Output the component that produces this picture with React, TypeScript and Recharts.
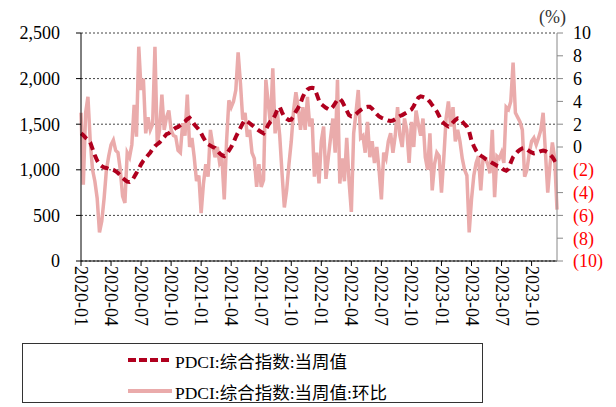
import React from 'react';
import { LineChart, Line, XAxis, YAxis, CartesianGrid } from 'recharts';

// PDCI composite index, weekly value (left axis)
const pdciIndex: number[] = [
  1400, 1380, 1350, 1330, 1300, 1230, 1160, 1100, 1060, 1040,
  1025, 1020, 1010, 1005, 1000, 985, 965, 940, 910, 890,
  870, 866, 880, 920, 965, 1010, 1060, 1100, 1130, 1160,
  1190, 1230, 1260, 1280, 1300, 1330, 1360, 1390, 1400, 1420,
  1440, 1460, 1470, 1490, 1510, 1530, 1555, 1570, 1540, 1500,
  1470, 1440, 1400, 1350, 1310, 1280, 1265, 1250, 1240, 1210,
  1180, 1160, 1150, 1170, 1210, 1250, 1300, 1360, 1410, 1460,
  1510, 1545, 1530, 1510, 1490, 1470, 1450, 1430, 1415, 1400,
  1440, 1490, 1530, 1550, 1600, 1660, 1690, 1630, 1580, 1560,
  1545, 1550, 1590, 1640, 1680, 1730, 1800, 1850, 1880, 1895,
  1900, 1895, 1830, 1760, 1720, 1700, 1680, 1665, 1660, 1690,
  1730, 1770, 1780, 1750, 1700, 1650, 1600, 1585, 1590, 1610,
  1635, 1655, 1670, 1685, 1690, 1690, 1670, 1640, 1610, 1585,
  1570, 1560, 1550, 1540, 1535, 1540, 1555, 1575, 1590, 1600,
  1615, 1630, 1645, 1660, 1700, 1750, 1790, 1805, 1800, 1790,
  1775, 1745, 1710, 1675, 1640, 1590, 1535, 1510, 1490, 1475,
  1490, 1520, 1545, 1565, 1560, 1530, 1500, 1475, 1420, 1320,
  1260, 1210, 1175, 1155, 1140, 1120, 1105, 1090, 1075, 1060,
  1045, 1035, 1020, 1000, 990, 1010, 1080, 1140, 1170, 1200,
  1220, 1235, 1240, 1225, 1205, 1190, 1180, 1185, 1195, 1205,
  1210, 1205, 1190, 1165, 1140, 1100, 1050,
];

// PDCI composite index, week-on-week change in % (right axis)
const pdciWow: number[] = [
  3.0, -3.3, 3.0, 4.4, 0.5, -2.0, -3.0, -4.5, -7.5, -6.5,
  -4.5, -2.0, -0.8, 0.2, 0.6, -0.3, -0.5, -2.0, -4.3, -4.9,
  -0.5, -0.9, 0.2, 3.7, 0.9, 8.8, 5.0, 6.0, 1.2, 2.6,
  1.5, 2.0, 8.8, 0.3, 1.5, 4.6, 1.5, 2.6, 3.2, 1.5,
  1.0, 0.9, -0.3, -0.5, 2.1, 1.0, 4.6, 0.0, 0.8, -0.9,
  -3.0, -2.5, -5.8, -3.2, -1.5, -2.6, 1.5, 0.2, -0.9, 0.0,
  -1.4, -1.0, -4.6, 0.5, 4.1, 3.5, 4.0, 5.0, 8.3, 5.6,
  2.4, 3.0, 0.9, 1.5, -0.5, -1.0, -3.5, -1.5, -3.5, -2.9,
  5.9, 3.9, 2.0, 6.9, 1.2, 3.0, 1.0, -2.3, -5.3, -3.8,
  -1.5, 0.5, 3.2, 4.8, 3.5, 1.5, 3.5, 1.5, 4.4, 1.8,
  2.5, -2.6, -0.5, -3.2, 0.5, 1.8, -2.8, -1.0, 0.8, 2.5,
  -0.5, 5.9, -3.2, -1.0, -3.0, 0.8, -3.0, -5.7, 1.2, 3.0,
  5.0, 0.8, 1.0, -0.5, 2.2, -0.9, 0.5, -1.4, 0.0, -2.0,
  -4.6, -0.5, -1.0, 0.5, 1.2, -0.5, 1.0, 3.5, 1.0, 0.0,
  2.5, 1.5, -1.4, 2.2, 0.0, 3.2, 2.0, 1.0, 2.5, -0.9,
  -2.0, 1.2, -3.8, -1.5, -0.5, -0.8, -4.0, -1.0, 2.5, 4.0,
  1.8, 3.5, 0.5, 1.5, 0.5, -1.0, -2.0, -2.5, -7.5, -4.6,
  -2.5, -1.4, -0.8, -3.8, -1.0, -1.0, -1.5, -2.3, 1.5, -4.4,
  -0.8, -1.0, -0.5, -1.4, 3.5, 3.3, 4.0, 7.4, 3.0, 2.6,
  2.2, 1.5, -2.6, -2.0, -0.5, 0.5, 0.8, 0.2, 0.8, 1.5,
  3.0, -0.5, -4.0, -1.5, 0.4, -1.0, -5.5,
];

// Quarter tick labels and their week positions
const quarterLabels: string[] = [
  '2020-01', '2020-04', '2020-07', '2020-10',
  '2021-01', '2021-04', '2021-07', '2021-10',
  '2022-01', '2022-04', '2022-07', '2022-10',
  '2023-01', '2023-04', '2023-07', '2023-10',
];
const quarterWeeks: number[] = [0, 13, 26, 39, 52, 65, 78, 91, 104, 117, 130, 143, 156, 169, 182, 195];

const leftTicks: number[] = [0, 500, 1000, 1500, 2000, 2500];
const rightTicks: number[] = [-10, -8, -6, -4, -2, 0, 2, 4, 6, 8, 10];

const seriesNames = ['PDCI:综合指数:当周值', 'PDCI:综合指数:当周值:环比'];

const data = pdciIndex.map((v, i) => ({ i, idx: v, wow: pdciWow[i] }));

const FONT = "'Liberation Serif', 'Times New Roman', 'Noto Sans CJK SC', serif";
const DARK_RED = '#B0001E';
const PINK = '#EAABAB';

const XTick = (props: any) => {
  const { x, y, payload } = props;
  const k = quarterWeeks.indexOf(payload.value);
  const label = k >= 0 ? quarterLabels[k] : '';
  return (
    <g transform={`translate(${x},${y})`}>
      <text
        transform="rotate(90)"
        x={0}
        y={0}
        dy="0.33em"
        textAnchor="start"
        fill="#000"
        fontSize={18}
        fontFamily={FONT}
      >
        {label}
      </text>
    </g>
  );
};

const RightTick = (props: any) => {
  const { x, y, payload } = props;
  const v: number = payload.value;
  const neg = v < 0;
  return (
    <text
      x={x}
      y={y}
      dy="0.355em"
      textAnchor="start"
      fill={neg ? '#FF0000' : '#000'}
      fontSize={18}
      fontFamily={FONT}
    >
      {neg ? `(${Math.abs(v)})` : `${v}`}
    </text>
  );
};

export default function App() {
  return (
    <div
      style={{
        position: 'absolute',
        left: 0,
        top: 0,
        width: 616,
        height: 407,
        background: '#fff',
        fontFamily: FONT,
      }}
    >
      <LineChart
        width={616}
        height={407}
        data={data}
        margin={{ top: 33, right: 0, bottom: 0, left: 0 }}
      >
        <CartesianGrid
          yAxisId="left"
          vertical={false}
          stroke="#444"
          strokeDasharray="2 2"
        />
        <XAxis
          dataKey="i"
          type="number"
          domain={[0, 206]}
          ticks={quarterWeeks}
          interval={0}
          height={146}
          tickSize={5}
          tickMargin={0}
          axisLine={{ stroke: '#000' }}
          tickLine={{ stroke: '#000' }}
          tick={<XTick />}
        />
        <YAxis
          yAxisId="left"
          orientation="left"
          width={81}
          domain={[0, 2500]}
          ticks={leftTicks}
          interval={0}
          tickSize={5}
          tickMargin={16}
          axisLine={{ stroke: '#000' }}
          tickLine={{ stroke: '#000' }}
          tickFormatter={(v: number) => v.toLocaleString('en-US')}
          tick={{ fill: '#000', fontSize: 18, fontFamily: FONT }}
        />
        <YAxis
          yAxisId="right"
          orientation="right"
          width={59}
          domain={[-10, 10]}
          ticks={rightTicks}
          interval={0}
          tickSize={6}
          tickMargin={10}
          axisLine={{ stroke: '#888' }}
          tickLine={{ stroke: '#888' }}
          tick={<RightTick />}
        />
        <Line
          yAxisId="right"
          dataKey="wow"
          name={seriesNames[1]}
          stroke={PINK}
          strokeWidth={3.5}
          dot={false}
          isAnimationActive={false}
        />
        <Line
          yAxisId="left"
          dataKey="idx"
          name={seriesNames[0]}
          stroke={DARK_RED}
          strokeWidth={4}
          strokeDasharray="8 5"
          dot={false}
          isAnimationActive={false}
        />
      </LineChart>
      <div
        style={{
          position: 'absolute',
          left: 539,
          top: 6,
          fontSize: 18,
          color: '#333',
          fontFamily: FONT,
          lineHeight: '22px',
        }}
      >
        (%)
      </div>
      <div
        style={{
          position: 'absolute',
          left: 22,
          top: 343,
          width: 461,
          height: 60,
          border: '1px solid #333',
          boxSizing: 'border-box',
        }}
      >
        {[0, 1].map((k) => (
          <div
            key={k}
            style={{
              position: 'absolute',
              left: 104,
              top: k === 0 ? 4 : 35,
              height: 24,
              display: 'flex',
              alignItems: 'center',
              fontSize: 17.5,
              fontFamily: FONT,
              color: '#000',
              whiteSpace: 'nowrap',
            }}
          >
            <svg width={46} height={10} style={{ marginRight: 2 }}>
              <line
                x1={1}
                y1={5}
                x2={45}
                y2={5}
                stroke={k === 0 ? DARK_RED : PINK}
                strokeWidth={4}
                strokeDasharray={k === 0 ? '8 3' : undefined}
              />
            </svg>
            <span>{seriesNames[k]}</span>
          </div>
        ))}
      </div>
    </div>
  );
}
